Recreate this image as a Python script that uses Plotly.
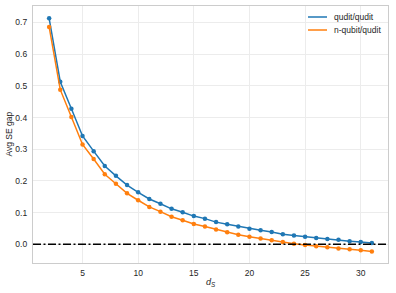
import plotly.graph_objects as go

d_s = list(range(2, 32))
qudit_qudit = [0.713, 0.513, 0.428, 0.342, 0.294, 0.247, 0.216, 0.187, 0.164, 0.143,
               0.128, 0.112, 0.101, 0.089, 0.081, 0.070, 0.063, 0.056, 0.049, 0.044,
               0.039, 0.032, 0.028, 0.024, 0.020, 0.017, 0.014, 0.010, 0.007, 0.004]
nqubit_qudit = [0.686, 0.488, 0.402, 0.315, 0.269, 0.221, 0.191, 0.161, 0.139, 0.118,
                0.103, 0.087, 0.076, 0.064, 0.056, 0.047, 0.038, 0.030, 0.024, 0.018,
                0.013, 0.007, 0.002, -0.002, -0.006, -0.009, -0.013, -0.016, -0.019, -0.023]
series_names = ["qudit/qudit", "n-qubit/qudit"]
colors = ["#1f77b4", "#ff7f0e"]
x_ticks = [5, 10, 15, 20, 25, 30]
y_ticks = [0.0, 0.1, 0.2, 0.3, 0.4, 0.5, 0.6, 0.7]

W, H = 396, 293
L, R, T, B = 33, 8, 6, 30
pw, ph = W - L - R, H - T - B

fig = go.Figure()
for name, ys, c in zip(series_names, [qudit_qudit, nqubit_qudit], colors):
    fig.add_trace(go.Scatter(x=d_s, y=ys, mode="lines+markers", name=name,
                             line=dict(color=c, width=1.5),
                             marker=dict(color=c, size=4.5), showlegend=False))

fig.add_shape(type="line", xref="paper", yref="y", x0=0, x1=1, y0=0, y1=0,
              line=dict(color="black", width=1.5, dash="8px,2.5px,2px,2.5px"))

# legend drawn manually (lines only, like the reference)
leg_rows = [17, 30]  # pixel rows from top of figure
for name, c, py in zip(series_names, colors, leg_rows):
    yp = 1 - (py - T) / ph
    x0 = (308 - L) / pw
    x1 = (327 - L) / pw
    fig.add_shape(type="line", xref="paper", yref="paper", x0=x0, x1=x1, y0=yp, y1=yp,
                  line=dict(color=c, width=1.5))
    fig.add_annotation(xref="paper", yref="paper", x=(332 - L) / pw, y=yp,
                       xanchor="left", yanchor="middle", text=name, showarrow=False,
                       font=dict(size=8.5, color="#262626"))

# axis titles
fig.add_annotation(xref="paper", yref="paper", x=0.5, y=-(282 - T - ph) / ph,
                   xanchor="center", yanchor="middle",
                   text="<i>d</i><sub><i>S</i></sub>", showarrow=False,
                   font=dict(size=9, color="#262626"))
fig.add_annotation(xref="paper", yref="paper", x=-(L - 8) / pw, y=0.5,
                   xanchor="center", yanchor="middle", textangle=-90,
                   text="Avg SE gap", showarrow=False,
                   font=dict(size=8.5, color="#262626"))

fig.update_layout(
    width=W, height=H,
    margin=dict(l=L, r=R, t=T, b=B, autoexpand=False),
    paper_bgcolor="white", plot_bgcolor="white",
    font=dict(family="Liberation Sans, Arial, sans-serif", size=8.5, color="#262626"),
    showlegend=False,
)
fig.update_xaxes(range=[0.55, 32.45], tickvals=x_ticks, showgrid=True,
                 gridcolor="#ececec", gridwidth=0.8, zeroline=False,
                 showline=True, linecolor="#cccccc", linewidth=1.2, mirror=True,
                 ticks="outside", ticklen=2, tickcolor="rgba(0,0,0,0)",
                 automargin=False, tickfont=dict(size=8.5))
fig.update_yaxes(range=[-0.059, 0.752], tickvals=y_ticks, tickformat=".1f",
                 showgrid=True, gridcolor="#ececec", gridwidth=0.8, zeroline=False,
                 showline=True, linecolor="#cccccc", linewidth=1.2, mirror=True,
                 ticks="outside", ticklen=3, tickcolor="rgba(0,0,0,0)",
                 automargin=False, tickfont=dict(size=8.5))

fig.write_html("out.html", config={"displayModeBar": False},
               post_script="document.body.style.margin='0';document.body.style.padding='0';")
